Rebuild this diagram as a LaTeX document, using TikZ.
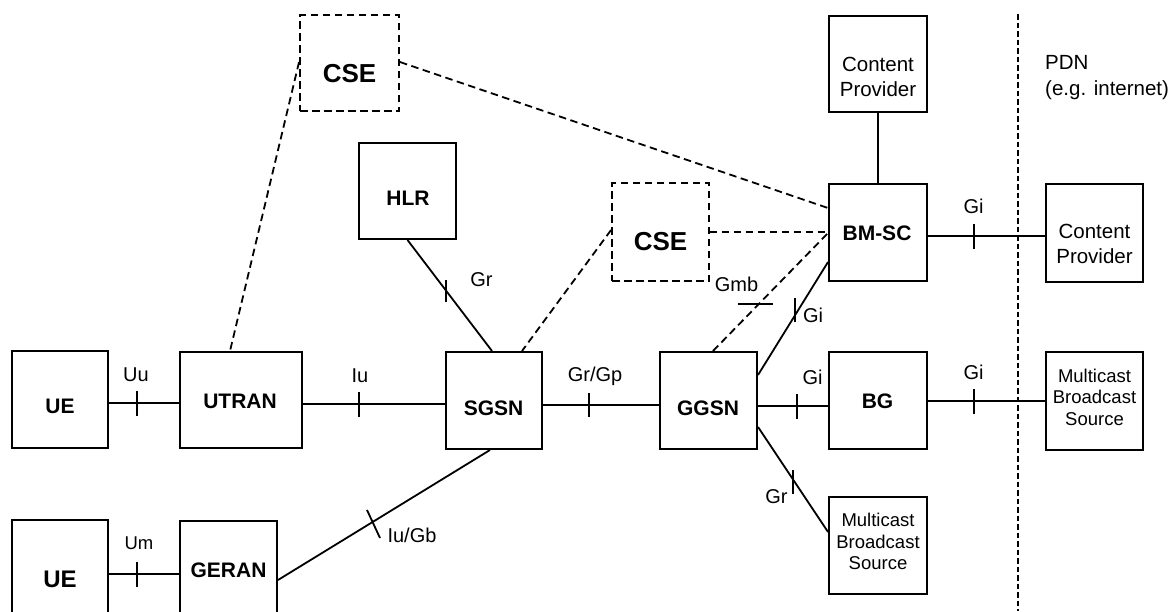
\documentclass[tikz,border=0pt]{standalone}
\usepackage{fontspec}
\setmainfont{Liberation Sans}
\begin{document}
\begin{tikzpicture}[x=1pt,y=-1pt,
  box/.style={draw,line width=2pt,inner sep=0pt},
  dbox/.style={box,line width=1.9pt,dash pattern=on 7.5pt off 4.5pt},
  conn/.style={line width=1.8pt},
  dconn/.style={line width=1.8pt,dash pattern=on 7.5pt off 4.5pt},
  pdnline/.style={line width=2.2pt,dash pattern=on 5.5pt off 3pt},
  tickmark/.style={line width=1.8pt},
  bt/.style={inner sep=0pt,anchor=base,font=\fontsize{21}{25}\selectfont\bfseries},
  it/.style={inner sep=0pt,anchor=base,font=\fontsize{20}{24}\selectfont},
  mt/.style={inner sep=0pt,anchor=north,align=center,font=\fontsize{18.5}{21.5}\selectfont},
  ct/.style={inner sep=0pt,anchor=north,align=center,font=\fontsize{20.5}{25}\selectfont},
]
\clip (0,0) rectangle (1174,611);

% boxes
\node[dbox,minimum width=99pt,minimum height=96pt] (cse1) at (349.5,63) {};
\node[box,minimum width=97pt,minimum height=96pt] (hlr) at (407.5,191) {};
\node[dbox,minimum width=97pt,minimum height=98pt] (cse2) at (660.5,232) {};
\node[box,minimum width=98pt,minimum height=96pt] (cptop) at (878,64) {};
\node[box,minimum width=98pt,minimum height=97pt] (bmsc) at (878,232.5) {};
\node[box,minimum width=97pt,minimum height=98pt] (cpright) at (1094.5,233) {};
\node[box,minimum width=96pt,minimum height=97pt] (ue1) at (60,399.5) {};
\node[box,minimum width=122pt,minimum height=96pt] (utran) at (241,400) {};
\node[box,minimum width=96pt,minimum height=97pt] (sgsn) at (494,400.5) {};
\node[box,minimum width=97pt,minimum height=97pt] (ggsn) at (708.5,400.5) {};
\node[box,minimum width=98pt,minimum height=97pt] (bg) at (878,400.5) {};
\node[box,minimum width=97pt,minimum height=98pt] (mbsright) at (1094.5,401) {};
\node[box,minimum width=98pt,minimum height=97pt] (mbsbot) at (878,545.5) {};
\node[box,minimum width=96pt,minimum height=110pt] (ue2) at (60,575) {};
\node[box,minimum width=97pt,minimum height=109pt] (geran) at (228.5,575.5) {};

% box texts
\node[bt,font=\fontsize{26}{30}\selectfont\bfseries] (t-cse1) at (349.5,82) {CSE};
\node[bt] (t-hlr) at (408,205) {HLR};
\node[bt,font=\fontsize{26}{30}\selectfont\bfseries] (t-cse2) at (660.5,250) {CSE};
\node[bt] (t-bmsc) at (877,240) {BM-SC};
\node[bt] (t-ue1) at (60,413) {UE};
\node[bt] (t-utran) at (240,408) {UTRAN};
\node[bt] (t-sgsn) at (493.5,415) {SGSN};
\node[bt] (t-ggsn) at (708,415) {GGSN};
\node[bt] (t-bg) at (877.5,408) {BG};
\node[bt] (t-geran) at (228.5,577) {GERAN};
\node[bt,font=\fontsize{24}{28}\selectfont\bfseries] (t-ue2) at (60,587) {UE};
\node[ct] (t-cptop) at (878,56.5) {Content\\Provider};
\node[ct] (t-cpright) at (1094.5,224) {Content\\Provider};
\node[mt] (t-mbsright) at (1094.5,368.5) {Multicast\\Broadcast\\Source};
\node[mt] (t-mbsbot) at (878,513) {Multicast\\Broadcast\\Source};
\node[inner sep=0pt,anchor=north west,align=left,font=\fontsize{20.5}{26}\selectfont] (t-pdn) at (1045,55) {PDN\\(e.g. internet)};

% PDN boundary
\coordinate (pdntop) at (1018,14);
\coordinate (pdnbot) at (1018,611);
\draw[pdnline] (pdntop) -- (pdnbot);

% solid connectors
\draw[conn] (ue1.east |- 0,403) -- (utran.west |- 0,403);
\draw[conn] (utran.east |- 0,404) -- (sgsn.west |- 0,404);
\draw[conn] (sgsn.east |- 0,405) -- (ggsn.west |- 0,405);
\draw[conn] (ggsn.east |- 0,406) -- (bg.west |- 0,406);
\draw[conn] (bg.east |- 0,401) -- (mbsright.west |- 0,401);
\draw[conn] (bmsc.east |- 0,236) -- (cpright.west |- 0,236);
\draw[conn] (cptop.south) -- (bmsc.north);
\draw[conn] (ue2.east |- 0,574) -- (geran.west |- 0,574);
\draw[conn] (geran.east |- 0,580) -- (sgsn.south -| 490,0);
\draw[conn] (hlr.south) -- (sgsn.north -| 492,0);
\draw[conn] (ggsn.east |- 0,427) -- (mbsbot.west |- 0,532);
\draw[conn] (ggsn.east |- 0,375) -- (bmsc.west |- 0,262);

% dashed connectors
\draw[dconn] (cse1.west |- 0,62) -- (utran.north -| 230,0);
\draw[dconn] (cse1.east |- 0,62) -- (bmsc.west |- 0,208);
\draw[dconn] (cse2.west |- 0,230) -- (sgsn.north -| 522,0);
\draw[dconn] (cse2.east |- 0,232) -- (bmsc.west |- 0,232);
\draw[dconn] (ggsn.north -| 713,0) -- (bmsc.west |- 0,233);

% interface ticks
\draw[tickmark] (137,391) -- (137,416);
\draw[tickmark] (359,392) -- (359,417);
\draw[tickmark] (589,393) -- (589,417);
\draw[tickmark] (797,394) -- (797,419);
\draw[tickmark] (974,389) -- (974,414);
\draw[tickmark] (974,224) -- (974,249);
\draw[tickmark] (137,562) -- (137,587);
\draw[tickmark] (367,510) -- (380,538);
\draw[tickmark] (446,280) -- (446,302);
\draw[tickmark] (793,470) -- (793,494);
\draw[tickmark] (795,298) -- (795,322);
\draw[tickmark] (738,304) -- (773,304);

% interface labels
\node[it] (l-uu) at (136,381) {Uu};
\node[it] (l-iu) at (360,382) {Iu};
\node[it,font=\fontsize{18.5}{22}\selectfont] (l-um) at (139,549) {Um};
\node[it] (l-iugb) at (412,542) {Iu/Gb};
\node[it] (l-gr1) at (481.5,286) {Gr};
\node[it] (l-grgp) at (595,381) {Gr/Gp};
\node[it] (l-gmb) at (736.5,291) {Gmb};
\node[it] (l-gi1) at (813,322) {Gi};
\node[it] (l-gi2) at (973.5,213) {Gi};
\node[it] (l-gi3) at (812.5,384) {Gi};
\node[it] (l-gi4) at (973.5,379) {Gi};
\node[it] (l-gr2) at (776.5,503) {Gr};
\end{tikzpicture}
\end{document}
